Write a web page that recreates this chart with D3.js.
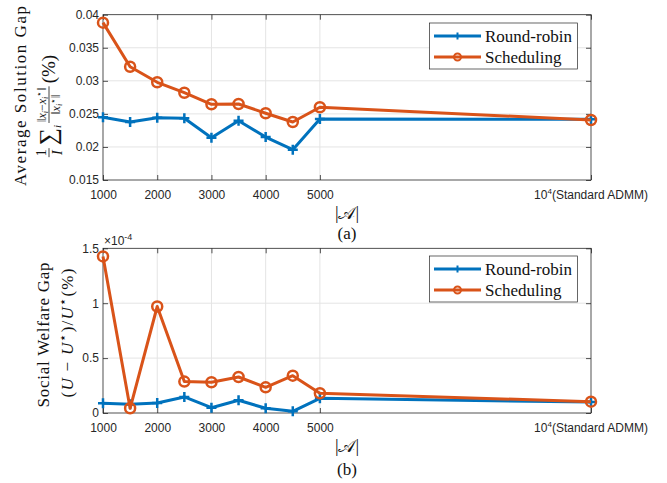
<!DOCTYPE html>
<html><head><meta charset="utf-8">
<script src="https://cdn.jsdelivr.net/npm/d3@7"></script>
<style>
body{margin:0;background:#fff;}
svg{display:block;}
</style></head>
<body>
<svg id="chart" width="667" height="483"></svg>
<script>
// ---- data ----
const xValues = [1000,1500,2000,2500,3000,3500,4000,4500,5000,10000];
const xTickValues = [1000,2000,3000,4000,5000,10000];
const seriesNames = ["Round-robin","Scheduling"];
const solutionGapRR  = [0.02448,0.02377,0.02442,0.02433,0.0214,0.02397,0.0215,0.01958,0.02422,0.02417];
const solutionGapSch = [0.0388,0.03213,0.02978,0.0282,0.02645,0.0265,0.02509,0.02377,0.026,0.02407];
const welfareGapRR  = [0.088,0.079,0.091,0.146,0.048,0.116,0.043,0.015,0.134,0.100];
const welfareGapSch = [1.426,0.043,0.97,0.286,0.28,0.328,0.234,0.34,0.18,0.103];
const yTicksTop = [0.015,0.02,0.025,0.03,0.035,0.04];
const yTicksBottom = [0,0.5,1,1.5];

const BLUE = "#0072BD", ORANGE = "#D95319", INK = "#262626", GRID = "#e4e4e4";
const SERIF = "'Liberation Serif','Times New Roman',serif";
const SANS = "'Liberation Sans',Arial,Helvetica,sans-serif";

const svg = d3.select("#chart");
const X0 = 103, X1 = 591;
const x = d3.scaleLinear().domain([1000,10000]).range([X0,X1]);

function richText(parent, x, y, segs, attrs) {
  const t = parent.append("text").attr("x", x).attr("y", y);
  for (const k in (attrs||{})) t.attr(k, attrs[k]);
  let cur = 0;
  segs.forEach(s => {
    const sp = t.append("tspan").text(s.t);
    const sh = s.sh || 0;
    if (sh !== cur) { sp.attr("dy", -(sh - cur)); cur = sh; }
    if (s.s) sp.attr("font-size", s.s);
    if (s.i) sp.attr("font-style", "italic");
  });
  return t;
}

function panel(cfg) {
  const {top, bottom, yDomain, yTicks, fmt, rr, sch, legendY, label} = cfg;
  const y = d3.scaleLinear().domain(yDomain).range([bottom, top]);
  const g = svg.append("g");
  // grid
  g.append("g").selectAll("line").data(xTickValues.filter(v => v>1000 && v<10000)).join("line")
    .attr("x1", d=>x(d)).attr("x2", d=>x(d)).attr("y1", top).attr("y2", bottom)
    .attr("stroke", GRID).attr("stroke-width", 1);
  g.append("g").selectAll("line").data(yTicks.filter(v => v>yDomain[0] && v<yDomain[1])).join("line")
    .attr("x1", X0).attr("x2", X1).attr("y1", d=>y(d)).attr("y2", d=>y(d))
    .attr("stroke", GRID).attr("stroke-width", 1);

  // axes
  const ax = (gen, tx, ty) => {
    const a = g.append("g").attr("transform", `translate(${tx},${ty})`).call(gen);
    a.select(".domain").remove();
    a.selectAll("line").attr("stroke", INK).attr("stroke-width", 0.8);
    a.selectAll("text").attr("fill", INK).attr("font-family", SANS).attr("font-size", 12);
    return a;
  };
  ax(d3.axisBottom(x).tickValues(xTickValues).tickSize(-5).tickPadding(10)
      .tickFormat(d => d === 10000 ? "" : d), 0, bottom);
  // special 10^4 label
  richText(g, x(10000), bottom + 19, [
    {t:"10"}, {t:"4", s:8, sh:5}, {t:"(Standard ADMM)", sh:0}
  ], {"text-anchor":"middle","font-family":SANS,"font-size":12,"fill":INK});
  ax(d3.axisTop(x).tickValues(xTickValues).tickSize(-5).tickFormat(""), 0, top);
  ax(d3.axisLeft(y).tickValues(yTicks).tickSize(-5).tickPadding(4).tickFormat(fmt), X0, 0);
  ax(d3.axisRight(y).tickValues(yTicks).tickSize(-5).tickFormat(""), X1, 0);
  g.append("rect").attr("x", X0).attr("y", top).attr("width", X1-X0).attr("height", bottom-top)
    .attr("fill", "none").attr("stroke", INK).attr("stroke-width", 0.8);

  // series
  const line = d3.line().x((d,i)=>x(xValues[i])).y(d=>y(d));
  const drawSeries = (vals, color, marker) => {
    g.append("path").datum(vals).attr("d", line).attr("fill","none")
      .attr("stroke", color).attr("stroke-width", 3).attr("stroke-linejoin","round");
    if (marker === "o") {
      g.append("g").selectAll("circle").data(vals).join("circle")
        .attr("cx",(d,i)=>x(xValues[i])).attr("cy", d=>y(d)).attr("r", 5)
        .attr("fill","none").attr("stroke", color).attr("stroke-width", 2.5);
    } else {
      g.append("g").selectAll("path").data(vals).join("path")
        .attr("d",(d,i)=>{const cx=x(xValues[i]), cy=y(d); return `M${cx-5},${cy}H${cx+5}M${cx},${cy-5}V${cy+5}`;})
        .attr("stroke", color).attr("stroke-width", 2.5);
    }
  };
  drawSeries(rr, BLUE, "+");
  drawSeries(sch, ORANGE, "o");

  // legend
  const lg = g.append("g");
  lg.append("rect").attr("x", 429.5).attr("y", legendY).attr("width", 148).attr("height", 46)
    .attr("fill","#fff").attr("stroke", INK).attr("stroke-width", 0.7);
  [[BLUE,"+"],[ORANGE,"o"]].forEach(([c,m],k) => {
    const ly = legendY + 13 + k*21;
    lg.append("line").attr("x1",434).attr("x2",481).attr("y1",ly).attr("y2",ly)
      .attr("stroke",c).attr("stroke-width",3);
    if (m === "o") lg.append("circle").attr("cx",457.5).attr("cy",ly).attr("r",3.5)
      .attr("fill","none").attr("stroke",c).attr("stroke-width",2);
    else lg.append("path").attr("d",`M457.5,${ly-3.5}V${ly+3.5}`).attr("stroke",c).attr("stroke-width",2);
    lg.append("text").attr("x",485).attr("y",ly+5.5).text(seriesNames[k])
      .attr("font-family",SERIF).attr("font-size",17).attr("fill","#111");
  });

  // x label
  const cx = (X0+X1)/2;
  g.append("text").attr("x", cx).attr("y", label.xy).attr("text-anchor","middle")
    .attr("font-family",SERIF).attr("font-size",18).attr("fill","#111").text("|𝒜|");
  g.append("text").attr("x", cx).attr("y", label.py).attr("text-anchor","middle")
    .attr("font-family",SERIF).attr("font-size",17).attr("fill","#111").text(label.panel);
  return {y, g};
}

panel({top:14.7, bottom:180, yDomain:[0.015,0.04], yTicks:yTicksTop,
  fmt: d => String(+d.toFixed(3)), rr: solutionGapRR, sch: solutionGapSch, legendY: 23,
  label:{xy:219, py:239, panel:"(a)"}});
panel({top:248.3, bottom:413, yDomain:[0,1.5], yTicks:yTicksBottom,
  fmt: d => String(d), rr: welfareGapRR, sch: welfareGapSch, legendY: 256,
  label:{xy:452, py:475, panel:"(b)"}});

// exponent label
richText(svg, 104, 245, [{t:"×10"},{t:"-4", s:9, sh:5}],
  {"font-family":SANS,"font-size":12,"fill":INK});

// ---- y labels ----
function rot(cx, cy) { return svg.append("g").attr("transform", `translate(${cx},${cy}) rotate(-90)`); }
// top line 1
rot(26, 96).append("text").attr("text-anchor","middle").attr("font-family",SERIF)
  .attr("font-size",17).attr("fill","#111").attr("textLength",180).attr("lengthAdjust","spacing")
  .text("Average Solution Gap");
// top line 2 (math)
(function(){
  const g = rot(55, 105);
  const inner = g.append("g");
  let cur = 0;
  const AX = -6;
  function frac(num, den, size) {
    const n = richText(inner, 0, AX-3, num, {"font-family":SERIF,"font-size":size,"fill":"#111","text-anchor":"middle"});
    const d = richText(inner, 0, AX+3+size*0.7, den, {"font-family":SERIF,"font-size":size,"fill":"#111","text-anchor":"middle"});
    const w = Math.max(n.node().getComputedTextLength(), d.node().getComputedTextLength()) + 2;
    n.attr("x", cur + w/2); d.attr("x", cur + w/2);
    inner.append("line").attr("x1",cur).attr("x2",cur+w).attr("y1",AX).attr("y2",AX)
      .attr("stroke","#111").attr("stroke-width",0.8);
    cur += w + 3;
  }
  function txt(segs, size) {
    const t = richText(inner, cur, 0, segs, {"font-family":SERIF,"font-size":size,"fill":"#111"});
    cur += t.node().getComputedTextLength() + 2;
  }
  frac([{t:"1"}], [{t:"I", i:true}], 14);
  txt([{t:"∑", sh:-1},{t:"i", i:true, s:11, sh:-6}], 24);
  frac([{t:"‖"},{t:"x",i:true},{t:"i",i:true,s:8,sh:-2},{t:"−",sh:0},{t:"x",i:true},{t:"i",i:true,s:8,sh:-2},{t:"⋆",s:9,sh:4},{t:"‖",sh:0}],
       [{t:"‖"},{t:"x",i:true},{t:"i",i:true,s:8,sh:-2},{t:"⋆",s:9,sh:4},{t:"‖",sh:0}], 12);
  txt([{t:"(%)"}], 19);
  inner.attr("transform", `translate(${-cur/2},0)`);
})();
// bottom line 1
rot(49, 335).append("text").attr("text-anchor","middle").attr("font-family",SERIF)
  .attr("font-size",17).attr("fill","#111").attr("textLength",145).attr("lengthAdjust","spacing")
  .text("Social Welfare Gap");
// bottom line 2
richText(rot(73, 333), 0, 0, [
  {t:"("},{t:"U",i:true},{t:" − "},{t:"U",i:true},{t:"⋆",s:13,sh:6},{t:")/",sh:0},{t:"U",i:true},{t:"⋆",s:13,sh:6},{t:"(%)",sh:0}
], {"text-anchor":"middle","font-family":SERIF,"font-size":17,"fill":"#111","textLength":129,"lengthAdjust":"spacing"});
</script>
</body></html>
